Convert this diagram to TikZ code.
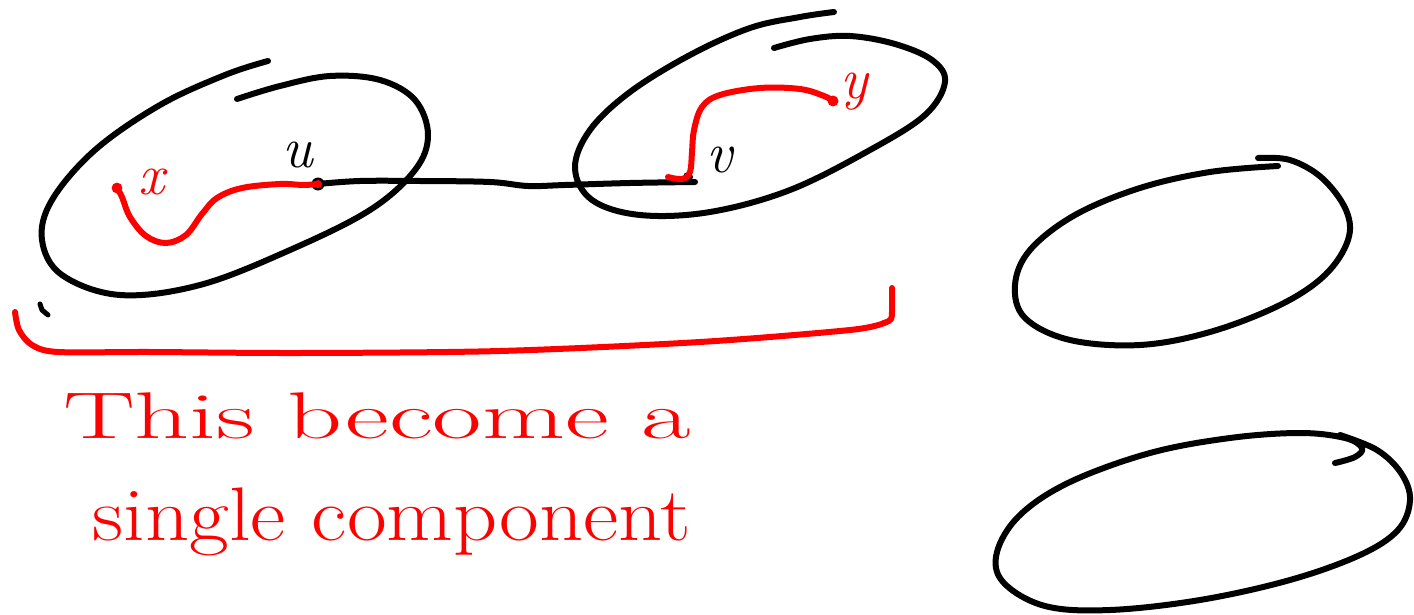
\documentclass[tikz,border=0pt]{standalone}
\begin{document}
\begin{tikzpicture}[x=1pt,y=-1pt,
  blk/.style={line width=6pt, line cap=round, line join=round, black},
  rd/.style={line width=6pt, line cap=round, line join=round, red},
  lblk/.style={font=\fontsize{58}{60}\selectfont\itshape, text=black, inner sep=0pt},
  lred/.style={font=\fontsize{58}{60}\selectfont\itshape, text=red, inner sep=0pt},
  hand/.style={font=\fontsize{66}{70}\selectfont, text=red, inner sep=0pt}]
\useasboundingbox (0,0) rectangle (1414,615);
% component 1
\draw[blk] plot[smooth, tension=0.6] coordinates {(268,61) (225,75) (160,105) (95,150) (52,200) (42,240) (62,275) (120,295) (200,285) (290,250) (370,210) (415,170) (428,135) (415,100) (380,80) (330,76) (280,86) (237,99)};
% component 2
\draw[blk] plot[smooth, tension=0.6] coordinates {(834,12) (800,17) (750,28) (690,55) (630,92) (590,130) (575,168) (592,200) (640,215) (710,212) (790,190) (870,150) (925,115) (945,82) (932,60) (895,44) (850,36) (810,39) (774,48)};
% component 3
\draw[blk] plot[smooth, tension=0.6] coordinates {(1258,158) (1290,160) (1322,178) (1346,210) (1348,240) (1325,275) (1280,305) (1210,332) (1140,345) (1070,340) (1025,318) (1015,285) (1030,250) (1075,215) (1140,188) (1210,172) (1278,166)};
% component 4
\draw[blk] plot[smooth, tension=0.6] coordinates {(1340,435) (1377,450) (1401,473) (1410,500) (1398,530) (1360,555) (1290,580) (1200,600) (1110,610) (1045,606) (1003,582) (997,552) (1020,515) (1070,482) (1150,453) (1230,438) (1300,433) (1345,438) (1362,448) (1355,457) (1335,463)};
% vertices
\coordinate (u) at (318,184);
\coordinate (v) at (695,182);
\coordinate (xp) at (117,188);
\coordinate (yp) at (833,101);
% edge u--v
\draw[blk] plot[smooth, tension=0.6] coordinates {(u) (360,181) (420,181) (490,182) (528,186) (565,185) (630,183) (v)};
\fill[black] (u) circle (6.5pt);
\fill[black] (688,177) circle (5pt);
% red path x -> u
\draw[rd] plot[smooth, tension=0.6] coordinates {(xp) (122,197) (130,217) (146,236) (166,243) (186,235) (202,214) (217,198) (242,188) (280,184) (303,185) (u)};
\draw[red, line width=3.5pt] (xp) circle (3.5pt);
\fill[red] (u) circle (4pt);
% red path v -> y
\draw[rd] plot[smooth, tension=0.6] coordinates {(668,177) (682,179) (690,172) (692,152) (694,130) (702,107) (720,95) (760,88) (800,89) (824,96) (yp)};
\fill[red] (yp) circle (5.5pt);
% labels
\node[lred] (lx) at (152,182) {x};
\node[lblk] (lu) at (298,155) {u};
\node[lblk] (lv) at (720,160) {v};
\node[lred] (ly) at (854,92) {y};
% small black tick
\draw[blk, line width=5pt] (40,304) -- (42,310) -- (48,315);
% red bracket
\draw[rd] plot[smooth, tension=0.5] coordinates {(15,312) (19,330) (32,345) (58,352) (150,352) (300,353) (500,351) (700,342) (850,330) (884,323)};
\draw[rd] (884,323) .. controls (892,320) .. (892,310) -- (892,288);
% text
\node[hand, xscale=1.63] (t1) at (377,416) {This become a};
\node[hand, xscale=1.31, yscale=1.15] (t2) at (392,522) {single component};
\end{tikzpicture}
\end{document}
